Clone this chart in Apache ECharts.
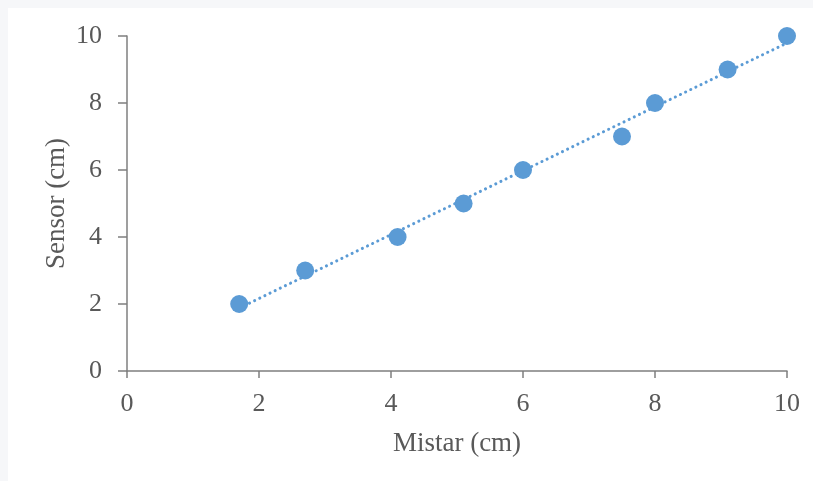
<!DOCTYPE html>
<html>
<head>
<meta charset="utf-8">
<script src="https://cdn.jsdelivr.net/npm/echarts@6/dist/echarts.min.js"></script>
<style>
  html, body { margin: 0; padding: 0; background: #f6f7f9; width: 813px; height: 481px; overflow: hidden; }
  #chart { position: absolute; left: 8px; top: 8px; width: 805px; height: 473px; background: #ffffff; }
</style>
</head>
<body>
<div id="chart"></div>
<script>
// Data
const mistar = [1.7, 2.7, 4.1, 5.1, 6.0, 7.5, 8.0, 9.1, 10.0];
const sensor = [2, 3, 4, 5, 6, 7, 8, 9, 10];
const xTicks = [0, 2, 4, 6, 8, 10];
const yTicks = [0, 2, 4, 6, 8, 10];

const points = mistar.map((x, i) => [x, sensor[i]]);

// Linear trendline (least squares) over the data range
const n = mistar.length;
const mx = mistar.reduce((a, b) => a + b, 0) / n;
const my = sensor.reduce((a, b) => a + b, 0) / n;
let sxy = 0, sxx = 0;
for (let i = 0; i < n; i++) { sxy += (mistar[i] - mx) * (sensor[i] - my); sxx += (mistar[i] - mx) ** 2; }
const slope = sxy / sxx, intercept = my - slope * mx;
const xmin = Math.min(...mistar), xmax = Math.max(...mistar);
const trend = [[xmin, intercept + slope * xmin], [xmax, intercept + slope * xmax]];

const font = '"Liberation Serif", "Times New Roman", serif';
const axisColor = '#7f7f7f';
const textColor = '#595959';

const chart = echarts.init(document.getElementById('chart'), null, { renderer: 'canvas' });
chart.setOption({
  animation: false,
  grid: { left: 119, right: 26, top: 28, bottom: 110, containLabel: false },
  xAxis: {
    type: 'value', min: 0, max: 10, interval: 2,
    name: 'Mistar (cm)', nameLocation: 'middle', nameGap: 59, nameMoveOverlap: false,
    nameTextStyle: { fontFamily: font, fontSize: 27, color: textColor },
    axisLine: { show: true, lineStyle: { color: axisColor, width: 1.5 } },
    axisTick: { show: true, length: 7, lineStyle: { color: axisColor, width: 1.5 } },
    axisLabel: { fontFamily: font, fontSize: 26, color: textColor, margin: 20,
      formatter: v => xTicks.includes(v) ? String(v) : '' },
    splitLine: { show: false }
  },
  yAxis: {
    type: 'value', min: 0, max: 10, interval: 2,
    name: 'Sensor (cm)', nameLocation: 'middle', nameGap: 57, nameMoveOverlap: false,
    nameTextStyle: { fontFamily: font, fontSize: 27, color: textColor },
    axisLine: { show: true, lineStyle: { color: axisColor, width: 1.5 } },
    axisTick: { show: true, length: 9, lineStyle: { color: axisColor, width: 1.5 } },
    axisLabel: { fontFamily: font, fontSize: 26, color: textColor, margin: 25,
      formatter: v => yTicks.includes(v) ? String(v) : '' },
    splitLine: { show: false }
  },
  series: [
    {
      type: 'line', data: trend, showSymbol: false, symbol: 'none', z: 1,
      lineStyle: { color: '#5B9BD5', width: 3, type: [0.1, 5.6], cap: 'round' },
      silent: true
    },
    {
      type: 'scatter', data: points, symbol: 'circle', symbolSize: 18, z: 2,
      itemStyle: { color: '#5B9BD5', opacity: 1 }
    }
  ]
});
</script>
</body>
</html>
